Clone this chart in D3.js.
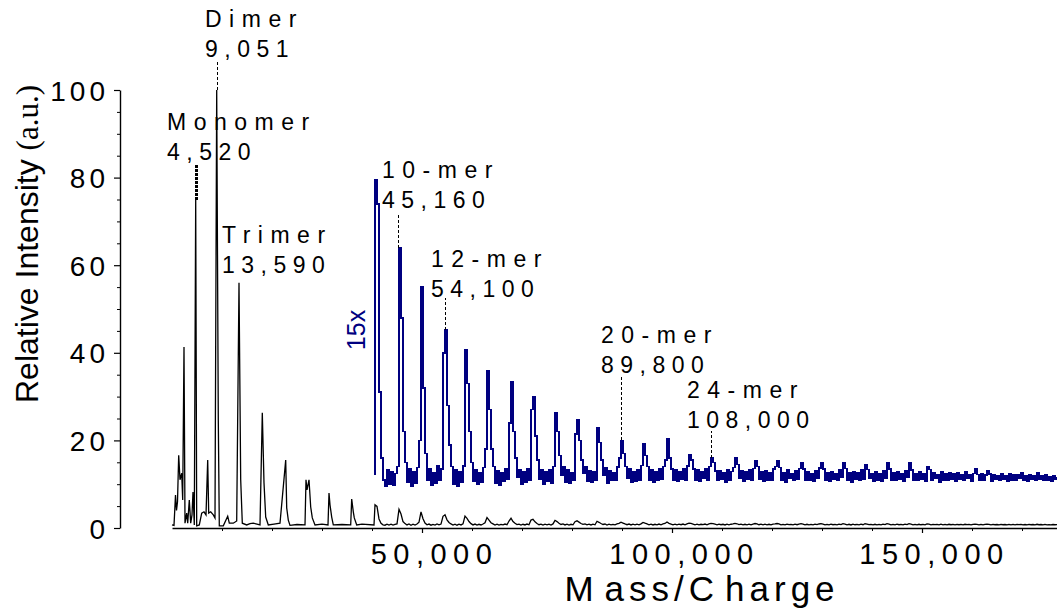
<!DOCTYPE html>
<html>
<head>
<meta charset="utf-8">
<script src="https://cdn.jsdelivr.net/npm/d3@7"></script>
<style>
  body { margin: 0; background: #fff; }
  svg text { font-family: "Liberation Sans", Arial, Helvetica, sans-serif; fill: #000; }
</style>
</head>
<body>
<div id="chart"></div>
<script>
// low mass part of the spectrum (black trace)
const lowMz = [0, 400, 700, 900, 1100, 1340, 1600, 1940, 2140, 2400, 2600, 2940, 3140, 3460, 3740, 4000, 4200, 4460,
  4740, 4940, 5460, 5940, 6400, 6800, 7140, 7340, 7740, 8260, 8600, 8940, 9260, 9460, 10260, 11140, 11460, 12260,
  12940, 13400, 13740, 14060, 14940, 15600, 16260, 17600, 18060, 18400, 18740, 19260, 20400, 21600, 22740, 22940,
  23260, 23600, 25000, 26600, 26800, 27000, 27400, 27740, 28060, 28600, 30000, 31200, 31400, 31600, 31940, 32260,
  34000, 35740, 35940, 36260, 36460, 36940, 38000, 40400];
const lowIntensity = [0.7, 0.6, 7.5, 4, 6, 16.6, 11, 12.5, 6.4, 41.3, 1.1, 3.4, 1.1, 6.4, 1.1, 3, 8.2, 0.7,
  75, 0.5, 0.7, 3.4, 3.7, 3, 15.5, 3.4, 3.7, 3, 2.3, 100, 24.6, 0.5, 0.5, 2.7, 1.1, 1.1,
  1.6, 56, 11, 1.1, 0.7, 1.0, 1.1, 0.7, 26.3, 10.3, 2.5, 0.7, 0.9, 1.1, 15.5, 4.6,
  1.8, 0.6, 0.8, 0.7, 11, 8.7, 11, 4.8, 2.3, 0.7, 0.9, 0.7, 8, 5.3, 2.5, 0.7,
  0.8, 0.7, 6.6, 3.7, 2.3, 0.7, 0.9, 0.7];

// high mass part, one value every 400 m/z from 40,600
const zoomStart = 40600;
const zoomStep = 400;
const zoomFactor = 15;
const zoomStartLevel = 12;
const zoomTrace = [
  79.5, 74, 31, 16, 11, 9.6, 13.2, 10.1, 12.8, 9.8,
  12.4, 14, 64, 48, 22, 15, 10.4, 13.6, 9.5, 12.9,
  10.2, 13.8, 20, 55, 32, 17, 11, 13.5, 9.7, 12.6,
  10.3, 14.1, 10.8, 13.5, 40, 45.2, 28, 19, 14, 10.1,
  13.3, 9.6, 12.9, 10.5, 14.2, 40.6, 33, 22, 15, 10.6,
  13.4, 9.9, 12.7, 10.4, 13.8, 18, 35.8, 27, 18, 14,
  10.2, 13.1, 9.8, 12.6, 10.7, 13.5, 11.2, 24, 33.3, 22,
  16, 11.5, 13.2, 10, 12.8, 10.4, 13.6, 11, 27, 30,
  21, 15.5, 11.2, 13.4, 10.1, 12.9, 10.6, 13.3, 10.3, 14,
  26.3, 22, 16.5, 12, 14, 10.5, 13.2, 10.2, 12.7, 11,
  21.5, 24.7, 20, 15.5, 12.4, 14, 10.6, 13.1, 10.4, 12.9,
  10.9, 23, 19.5, 15.5, 12, 13.7, 10.3, 13, 10.8, 12.6,
  11, 13.9, 16, 20, 17, 14, 11.3, 13.6, 10.4, 12.9,
  10.6, 13.2, 10.9, 14.3, 19.2, 16.5, 14, 11, 13.4, 10.5,
  12.8, 10.9, 13.5, 11.1, 14, 15.5, 20.3, 16, 13.5, 11,
  13.3, 10.6, 12.9, 11.2, 13.6, 10.8, 14.1, 16.7, 15.5, 13.5,
  11, 13.2, 10.7, 12.8, 11.3, 13.5, 10.9, 14, 16, 15,
  13, 10.8, 13.1, 11.2, 12.7, 10.5, 13.4, 11, 12.9, 13.8,
  16, 14.5, 11.4, 13, 10.7, 12.8, 11.1, 13.3, 10.8, 13.6,
  15.3, 14, 11.2, 12.9, 10.6, 13.1, 11, 12.7, 10.9, 13.5,
  14, 15.3, 13.8, 11, 12.6, 10.5, 13.2, 11.3, 12.5, 10.8,
  13.1, 11.2, 13.6, 14.8, 13.5, 10.9, 12.8, 11, 12.4, 10.6,
  13, 11.4, 13.7, 14.8, 13.5, 11, 12.6, 10.7, 12.9, 11.2,
  12.5, 10.9, 13.2, 11.5, 14.8, 13.6, 11, 12.7, 10.4, 12.9,
  11.1, 12.6, 10.8, 13.3, 11.2, 14.5, 13.4, 11.3, 12.5, 10.6,
  12.8, 11, 12.4, 10.7, 13.1, 11.4, 14.8, 13.5, 11, 12.6,
  10.8, 12.9, 11.2, 12.3, 10.6, 13, 11.5, 14.8, 13.2, 11,
  12.5, 10.9, 12.8, 11.1, 12.4, 10.7, 14, 13.3, 10.9, 12.6,
  11.3, 12.2, 10.5, 12.9, 11, 12.4, 10.8, 12.7, 11.2, 12.3,
  10.7, 12.6, 11.1, 12.2, 10.9, 12.8, 11.3, 12.1, 10.6, 12.5,
  13.5, 12.2, 10.8, 12.4, 11, 12.1, 13, 12.3, 10.7, 12.2,
  11.2, 12, 10.9, 12.4, 11.1, 11.9, 10.6, 12.3, 11, 12.1,
  10.8, 12.2, 11.3, 12.7, 11, 12, 10.7, 12.2, 11.1, 11.9,
  10.9, 12.7, 11.2, 12, 10.8, 12.1, 11, 11.8, 10.7, 12,
  11.1, 11.6
];

const xTicks = [50000, 100000, 150000];
const yTicks = [0, 20, 40, 60, 80, 100];

// peak annotations
const labelNames = ["Monomer", "Dimer", "Trimer", "10-mer", "12-mer", "20-mer", "24-mer"];
const labelMasses = ["4,520", "9,051", "13,590", "45,160", "54,100", "89,800", "108,000"];
// m/z of the marked peak and its apex as drawn (null = no leader line)
const leaderMz = [4740, 8900, null, 45200, 54600, 89800, 107800];
const leaderApex = [75, 100, null, 64, 45.2, 20, 16];

// ---- layout ----
const width = 1057, height = 609;

// where each label's first line sits, in m/z / intensity units
const labelPos = [[-1000, 90.9], [6600, 114.4], [10000, 65.1], [42000, 79.9],
  [51800, 59.6], [85800, 42.2], [103000, 29.7]];
const leaderTop = [83, 106.8, null, 71.9, 52.5, 34.9, 22.1];

let svg = d3.select("#chart").append("svg")
  .attr("width", width)
  .attr("height", height);

let x = d3.scaleLinear().domain([0, 177000]).range([172, 1057]);
let y = d3.scaleLinear().domain([0, 100]).range([528, 90]);

// y axis
let yAxis = svg.append("g")
  .attr("transform", "translate(120,0)")
  .call(d3.axisLeft(y).tickValues(yTicks).tickSize(6).tickSizeOuter(0).tickPadding(5));
yAxis.select(".domain").attr("stroke-width", 1.4);
yAxis.selectAll(".tick line").attr("stroke-width", 1.2);
yAxis.selectAll("text")
  .attr("dy", "0.36em")
  .style("font-size", "28px")
  .style("letter-spacing", "4px")
  .style("font-family", "Liberation Sans, Arial, sans-serif");

let yMinor = svg.append("g")
  .attr("transform", "translate(120,0)")
  .call(d3.axisLeft(y).tickValues(d3.range(5, 100, 5).filter(d => d % 20 != 0)).tickSize(3).tickFormat(""));
yMinor.select(".domain").remove();

// x axis
let xAxis = svg.append("g")
  .attr("transform", "translate(0,528)")
  .call(d3.axisBottom(x).tickValues(xTicks).tickSize(5).tickSizeOuter(0).tickPadding(10).tickFormat(d3.format(",")));
xAxis.select(".domain").attr("stroke-width", 1.4);
xAxis.selectAll(".tick line").attr("stroke-width", 1.2);
xAxis.selectAll("text")
  .attr("dx", 12)
  .style("font-size", "29px")
  .style("letter-spacing", "6.5px")
  .style("font-family", "Liberation Sans, Arial, sans-serif");

let xMinor = svg.append("g")
  .attr("transform", "translate(0,528)")
  .call(d3.axisBottom(x).tickValues(d3.range(10000, 177000, 10000).filter(d => d % 50000 != 0)).tickSize(3).tickFormat(""));
xMinor.select(".domain").remove();

// axis titles
let yTitle = svg.append("text")
  .attr("transform", "translate(38,244) rotate(-90)")
  .attr("text-anchor", "middle");
yTitle.append("tspan").text("Relative Intensity ").style("font-size", "32px");
yTitle.append("tspan").text("(a.u.)")
  .style("font-family", "'Liberation Serif', 'Times New Roman', serif")
  .style("font-size", "31px");

let xTitle = svg.append("text")
  .attr("x", 702)
  .attr("y", 601)
  .attr("text-anchor", "middle")
  .style("font-size", "35px")
  .style("letter-spacing", "5px");
xTitle.append("tspan").text("M");
xTitle.append("tspan").attr("dx", 6).text("ass/");
xTitle.append("tspan").text("C");
xTitle.append("tspan").attr("dx", 6).text("harge");

// spectra
let line = d3.line().x(d => x(d[0])).y(d => y(d[1]));
let stepLine = d3.line().x(d => x(d[0])).y(d => y(d[1])).curve(d3.curveStepAfter);

let blackPoints = lowMz.map((m, i) => [m, lowIntensity[i]])
  .concat(zoomTrace.map((v, i) => [zoomStart + i * zoomStep, v / zoomFactor]));
let bluePoints = [[zoomStart, zoomStartLevel]]
  .concat(zoomTrace.map((v, i) => [zoomStart + i * zoomStep, v]));

svg.append("path")
  .datum(blackPoints)
  .attr("d", line)
  .attr("fill", "none")
  .attr("stroke", "#000")
  .attr("stroke-width", 1.3)
  .attr("stroke-linejoin", "miter");

svg.append("path")
  .datum(bluePoints)
  .attr("d", stepLine)
  .attr("fill", "none")
  .attr("stroke", "#000080")
  .attr("stroke-width", 1.5)
  .attr("shape-rendering", "crispEdges");

svg.append("text")
  .attr("transform", "translate(365,330) rotate(-90)")
  .attr("text-anchor", "middle")
  .style("font-size", "25px")
  .style("fill", "#000080")
  .text("15x");

// leader lines
labelNames.forEach((name, i) => {
  if (leaderMz[i] == null) return;
  let lx = Math.round(x(leaderMz[i])) + 0.5;
  svg.append("line")
    .attr("x1", lx)
    .attr("x2", lx)
    .attr("y1", y(leaderApex[i]))
    .attr("y2", y(leaderTop[i]))
    .attr("stroke", "#000")
    .attr("stroke-width", i == 0 ? 2.6 : 1)
    .attr("stroke-dasharray", i == 0 ? "2.5,1.5" : "3,2")
    .attr("shape-rendering", "crispEdges");
});

// peak labels
let labels = svg.selectAll("g.peak-label")
  .data(labelNames)
  .enter().append("g")
  .attr("class", "peak-label");

labels.append("text")
  .attr("x", (d, i) => x(labelPos[i][0]))
  .attr("y", (d, i) => y(labelPos[i][1]))
  .style("font-size", "23px")
  .style("letter-spacing", "7.5px")
  .text(d => d);

labels.append("text")
  .attr("x", (d, i) => x(labelPos[i][0]))
  .attr("y", (d, i) => y(labelPos[i][1]) + 30)
  .style("font-size", "23px")
  .style("letter-spacing", "6.5px")
  .text((d, i) => labelMasses[i]);
</script>
</body>
</html>
